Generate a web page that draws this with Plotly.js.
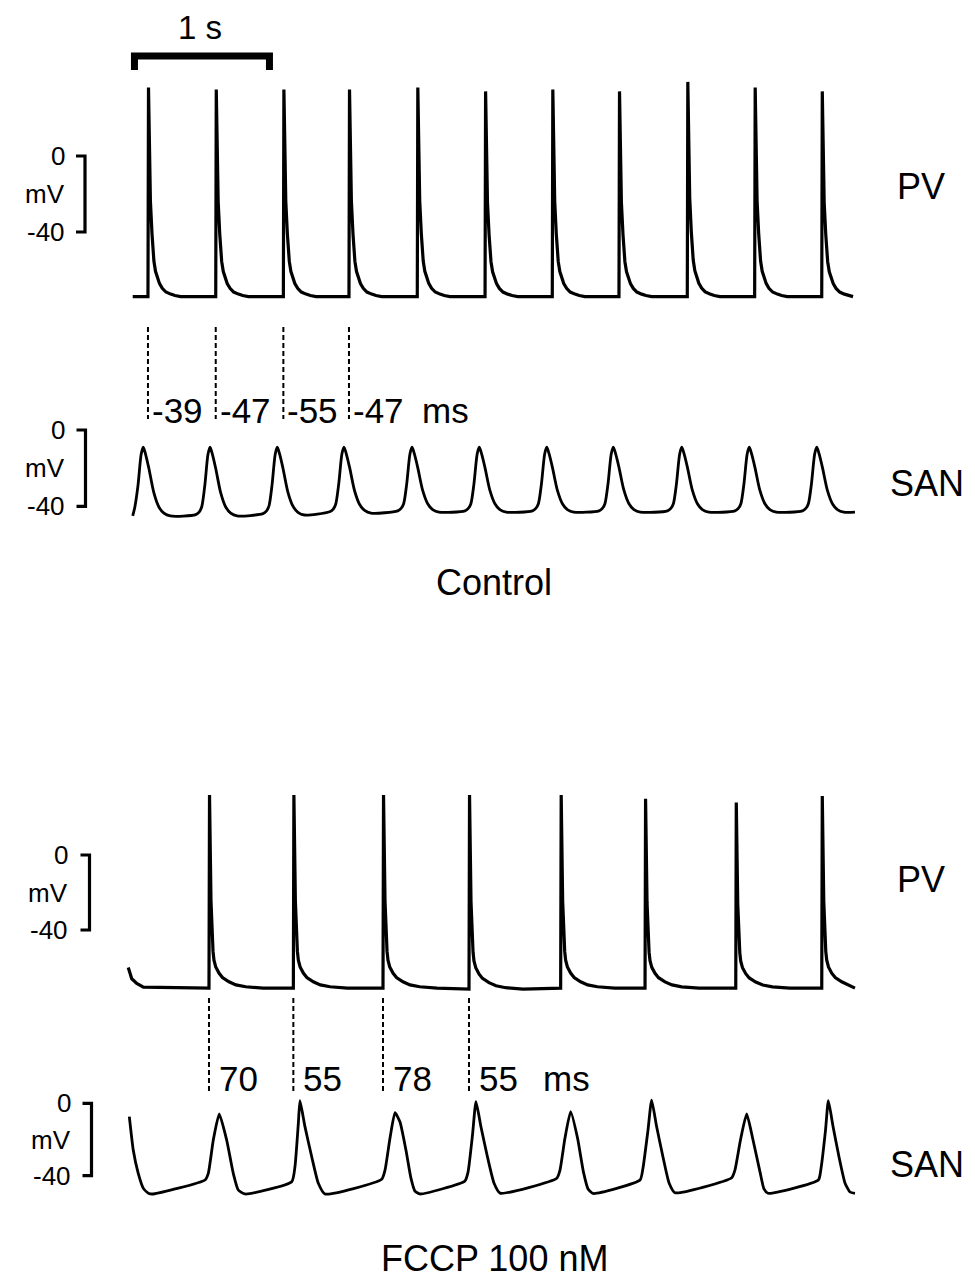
<!DOCTYPE html>
<html><head><meta charset="utf-8">
<script src="https://cdn.plot.ly/plotly-3.0.1.min.js"></script>
<style>html,body{margin:0;padding:0;background:#fff}#chart{width:975px;height:1286px}</style>
</head><body><div id="chart"></div>
<script>
// ===== DATA (time in ms, membrane potential in mV) =====
// --- Control, PV: action potential upstroke times and peak voltages
const pvCtrlSpikeT = [133, 635, 1136, 1622, 2128, 2630, 3128, 3622, 4128, 4627, 5124];
const pvCtrlPeakV  = [36, 35, 35, 35, 36, 34, 35, 34, 39, 36, 34];
const pvCtrlRestV  = [-74, -74, -74, -74, -74, -74, -74, -74, -74, -74, -74];
const pvCtrlSpan   = [20, 5356];
// shape of one PV action potential (ms after upstroke, fraction of amplitude)
const pvCtrlShapeT = [0, 4, 18, 30, 37, 44, 56, 69, 85, 106, 133, 168, 200, 242];
const pvCtrlShapeF = [0, 1, 0.46, 0.30, 0.22, 0.17, 0.121, 0.09, 0.063, 0.04, 0.022, 0.012, 0.005, 0];

// --- Control, SAN: peak times, peak and trough voltages
const sanCtrlPeakT   = [98, 593, 1091, 1585, 2089, 2587, 3087, 3580, 4087, 4587, 5087];
const sanCtrlPeakV   = [-9, -9, -9, -9, -9, -9, -9, -9, -9, -9, -9];
const sanCtrlTroughV = [-45, -45, -44.5, -43.5, -43, -43, -43, -43, -43, -43, -43];
const sanCtrlSpan    = [20, 5370];
// shape of one SAN action potential (ms relative to peak, fraction of amplitude)
const sanCtrlShapeT = [-106, -81, -62, -39, -15, 0, 17, 42, 79, 116, 153, 200];
const sanCtrlShapeF = [0.02, 0.057, 0.13, 0.44, 0.90, 1, 0.90, 0.69, 0.335, 0.13, 0.04, 0];

// --- FCCP 100 nM, PV
const pvFccpSpikeT = [585, 1210, 1874, 2511, 3190, 3815, 4487, 5124];
const pvFccpPeakV  = [32, 32, 32, 32, 32, 30, 28, 31.5];
const pvFccpRestV  = [-71, -71, -71, -71.5, -71, -71, -71, -71];
const pvFccpSpan   = [-13, 5370];
const pvFccpLeadT  = [-13, 13, 50, 99];          // tail of a preceding beat
const pvFccpLeadV  = [-60, -66, -68.5, -70.5];
const pvFccpShapeT = [0, 4, 15, 25, 30, 37, 50, 74, 100, 148, 200, 272, 400];
const pvFccpShapeF = [0, 1, 0.45, 0.25, 0.19, 0.145, 0.11, 0.078, 0.055, 0.033, 0.017, 0.007, 0];

// --- FCCP 100 nM, SAN (trace points)
const sanFccpT = [-5, 24, 61, 99, 136, 173, 556, 580, 617, 661, 716, 765, 802, 852,
  1198, 1222, 1247, 1259, 1296, 1346, 1395, 1444, 1864, 1889, 1926, 1963, 2000, 2044,
  2081, 2111, 2148, 2481, 2504, 2537, 2563, 2600, 2648, 2696, 2741, 3161, 3185, 3222,
  3264, 3315, 3359, 3393, 3430, 3778, 3800, 3837, 3864, 3900, 3948, 3993, 4037, 4457,
  4481, 4522, 4568, 4615, 4667, 4696, 4726, 5099, 5119, 5152, 5173, 5207, 5252, 5296,
  5333, 5370];
const sanFccpV = [-7.4, -25.8, -38.7, -47.0, -49.7, -50.1, -42.4, -38.7, -20.3, -5.9, -20.3, -38.7, -47.9, -50.1,
  -43.3, -35.0, -11.0, 1.4, -12.9, -29.5, -44.2, -50.1, -42.0, -36.9, -19.2, -5.2, -10.3, -25.8,
  -41.3, -48.5, -50.1, -42.9, -38.0, -17.5, 0.9, -13.1, -29.7, -44.0, -49.6, -41.4, -36.9, -19.2,
  -4.6, -19.2, -38.0, -47.3, -49.8, -42.4, -35.7, -14.8, 1.8, -12.5, -29.7, -44.0, -49.4, -41.1,
  -36.9, -20.3, -5.9, -20.3, -38.0, -47.3, -49.7, -42.4, -35.7, -14.8, 1.4, -12.5, -29.7, -44.0,
  -49.0, -49.7];

// --- labels
const ctrlDelays = ["-39", "-47", "-55", "-47"];
const fccpDelays = ["70", "55", "78", "55"];
const delayUnit = "ms";
const scaleTop = 0, scaleBottom = -40, scaleUnit = "mV";
const timeBarMs = 1000, timeBarLabel = "1 s";
const traceNames = ["PV", "SAN"];
const conditions = ["Control", "FCCP 100 nM"];

// ===== BUILD =====
function buildBeats(times, peaks, rests, shT, shF, span, leadT, leadV) {
  const x = [], y = [];
  if (leadT) { leadT.forEach((t, i) => { x.push(t); y.push(leadV[i]); }); }
  else { x.push(span[0]); y.push(rests[0]); }
  times.forEach((t0, i) => {
    shT.forEach((dt, j) => {
      const t = t0 + dt;
      if (t > x[x.length - 1] && t <= span[1]) {
        x.push(t); y.push(rests[i] + shF[j] * (peaks[i] - rests[i]));
      }
    });
  });
  if (x[x.length - 1] < span[1]) { x.push(span[1]); y.push(rests[rests.length - 1]); }
  return {x, y};
}

const W = 975, H = 1286;
const PX_PER_MS = 0.135, T0_PX = 130;
const px = p => p / W, py = p => 1 - p / H;
const yRange = (zeroPx, pxPerMv) => [(zeroPx - H) / pxPerMv, zeroPx / pxPerMv];

const pvCtrl = buildBeats(pvCtrlSpikeT, pvCtrlPeakV, pvCtrlRestV, pvCtrlShapeT, pvCtrlShapeF, pvCtrlSpan);
const sanCtrl = buildBeats(sanCtrlPeakT, sanCtrlPeakV, sanCtrlTroughV, sanCtrlShapeT, sanCtrlShapeF, sanCtrlSpan);
const pvFccp = buildBeats(pvFccpSpikeT, pvFccpPeakV, pvFccpRestV, pvFccpShapeT, pvFccpShapeF, pvFccpSpan, pvFccpLeadT, pvFccpLeadV);

const black = '#000';
const traces = [
  {x: pvCtrl.x, y: pvCtrl.y, yaxis: 'y', mode: 'lines', line: {color: black, width: 3.2}},
  {x: sanCtrl.x, y: sanCtrl.y, yaxis: 'y2', mode: 'lines', line: {color: black, width: 2.8, shape: 'spline', smoothing: 0.8}},
  {x: pvFccp.x, y: pvFccp.y, yaxis: 'y3', mode: 'lines', line: {color: black, width: 3.2}},
  {x: sanFccpT, y: sanFccpV, yaxis: 'y4', mode: 'lines', line: {color: black, width: 2.8, shape: 'spline', smoothing: 0.5}}
];

const font = {family: 'Liberation Sans, Arial, sans-serif', color: black};
const annotations = [];
const shapes = [];
function txt(text, xPx, yPx, size, anchor) {
  annotations.push({text, xref: 'paper', yref: 'paper', x: px(xPx), y: py(yPx), showarrow: false,
    xanchor: anchor || 'center', yanchor: 'middle', font: Object.assign({size}, font)});
}

// amplitude scale bars
function scaleBar(yref, xBarPx, labelRightPx) {
  const xl = px(xBarPx - 9), xb = px(xBarPx);
  shapes.push({type: 'path', xref: 'paper', yref,
    path: `M ${xl},${scaleTop} L ${xb},${scaleTop} L ${xb},${scaleBottom} L ${xl},${scaleBottom}`,
    line: {color: black, width: 3.2}});
  [[String(scaleTop), scaleTop], [scaleUnit, (scaleTop + scaleBottom) / 2], [String(scaleBottom), scaleBottom]].forEach(([t, v]) => {
    annotations.push({text: t, xref: 'paper', yref, x: px(labelRightPx), y: v, showarrow: false,
      xanchor: 'right', yanchor: 'middle', font: Object.assign({size: 26}, font)});
  });
}
scaleBar('y', 85, 67);
scaleBar('y2', 85.5, 67);
scaleBar('y3', 89.5, 70);
scaleBar('y4', 91.5, 73);

// time bar
const tb0 = 33;
shapes.push({type: 'path', xref: 'x', yref: 'paper',
  path: `M ${tb0},${py(70)} L ${tb0},${py(56)} L ${tb0 + timeBarMs},${py(56)} L ${tb0 + timeBarMs},${py(70)}`,
  line: {color: black, width: 7}});
txt(timeBarLabel, 200, 28, 33);

// dashed alignment lines and delay labels
function delayLines(times, labels, yTopPx, yBotPx, labelYPx, shift, unitXPx) {
  labels.forEach((lab, i) => {
    shapes.push({type: 'line', xref: 'x', yref: 'paper', x0: times[i], x1: times[i], y0: py(yTopPx), y1: py(yBotPx),
      line: {color: black, width: 2, dash: '5px,3px'}});
    annotations.push({text: lab, xref: 'x', yref: 'paper', x: times[i], y: py(labelYPx), xshift: shift,
      showarrow: false, xanchor: 'left', yanchor: 'middle', font: Object.assign({size: 35}, font)});
  });
  txt(delayUnit, unitXPx, labelYPx, 35, 'left');
}
delayLines(pvCtrlSpikeT, ctrlDelays, 327, 419, 410, 2, 420);
delayLines(pvFccpSpikeT, fccpDelays, 998, 1093, 1078, 8, 541);

// trace and condition labels
txt(traceNames[0], 921, 186, 36);
txt(traceNames[1], 927, 483, 36);
txt(traceNames[0], 921, 880, 36);
txt(traceNames[1], 927, 1164, 36);
txt(conditions[0], 494, 582, 36);
txt(conditions[1], 494, 1258, 36);

const hid = {visible: false, fixedrange: true, domain: [0, 1]};
const layout = {
  width: W, height: H, margin: {l: 0, r: 0, t: 0, b: 0},
  paper_bgcolor: '#fff', plot_bgcolor: '#fff', showlegend: false, hovermode: false,
  xaxis: {visible: false, fixedrange: true, range: [-T0_PX / PX_PER_MS, (W - T0_PX) / PX_PER_MS]},
  yaxis: Object.assign({range: yRange(156, 1.9)}, hid),
  yaxis2: Object.assign({range: yRange(430, 1.91), overlaying: 'y'}, hid),
  yaxis3: Object.assign({range: yRange(855, 1.875), overlaying: 'y'}, hid),
  yaxis4: Object.assign({range: yRange(1103.3, 1.81), overlaying: 'y'}, hid),
  shapes, annotations, font
};
Plotly.newPlot('chart', traces, layout, {staticPlot: true, displayModeBar: false});
</script>
</body></html>
